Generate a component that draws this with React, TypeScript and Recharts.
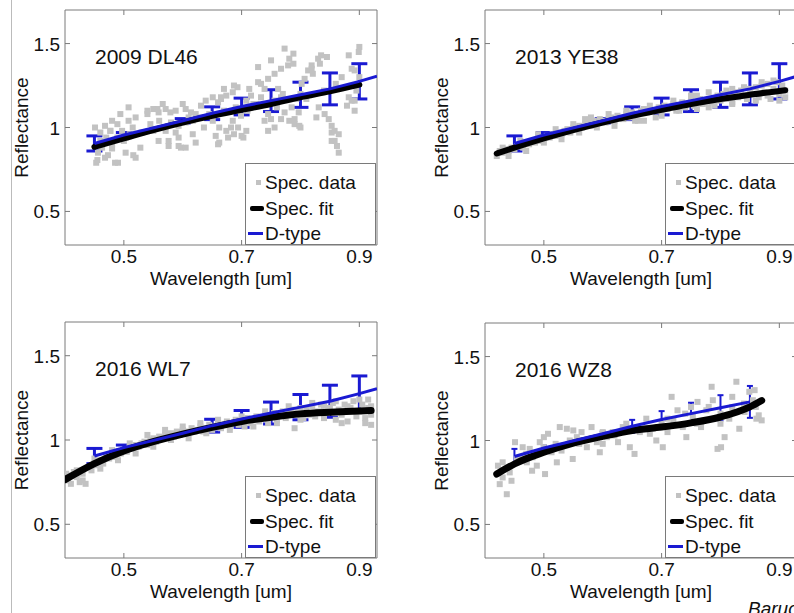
import React from "react";
import { ComposedChart, ErrorBar, Legend, ReferenceLine, Scatter, XAxis, YAxis } from "recharts";

const FONT = "'Liberation Sans', Arial, Helvetica, sans-serif";
const BOX = "#7a7a7a";
const GRAY = "#c2c2c2";
const BLUE = "#1a1ad2";

const xTicks = [0.5, 0.7, 0.9];
const yTicks = [0.5, 1, 1.5];
const legendNames = ["Spec. data", "Spec. fit", "D-type"];

// D-type template with error bars
const dtypeX = [0.45, 0.5, 0.6, 0.65, 0.7, 0.75, 0.8, 0.85, 0.9];
const dtypeY = [0.905, 0.955, 1.04, 1.085, 1.125, 1.16, 1.195, 1.23, 1.275];
const dtypeErr = [0.045, 0.015, 0.013, 0.038, 0.05, 0.065, 0.075, 0.095, 0.105];
const dtypeTailX = [0.9, 0.93];
const dtypeTailY = [1.275, 1.305];

// spectral fits
const fitDL46X = [0.45, 0.5, 0.55, 0.6, 0.65, 0.7, 0.75, 0.8, 0.85, 0.9];
const fitDL46Y = [0.885, 0.935, 0.985, 1.03, 1.07, 1.105, 1.14, 1.18, 1.215, 1.255];
const fitYE38X = [0.42, 0.45, 0.5, 0.55, 0.6, 0.65, 0.7, 0.75, 0.8, 0.85, 0.9, 0.91];
const fitYE38Y = [0.845, 0.88, 0.935, 0.985, 1.03, 1.07, 1.105, 1.14, 1.17, 1.195, 1.218, 1.222];
const fitWL7X = [0.4, 0.45, 0.5, 0.55, 0.6, 0.65, 0.7, 0.75, 0.8, 0.85, 0.9, 0.92];
const fitWL7Y = [0.765, 0.86, 0.935, 0.99, 1.035, 1.075, 1.11, 1.135, 1.155, 1.165, 1.172, 1.175];
const fitWZ8X = [0.42, 0.45, 0.5, 0.55, 0.6, 0.65, 0.7, 0.75, 0.8, 0.85, 0.87];
const fitWZ8Y = [0.8, 0.86, 0.93, 0.985, 1.025, 1.06, 1.08, 1.105, 1.14, 1.2, 1.238];

// spectral data points [wavelength, reflectance]
const specDL46: [number, number][] = [
  [0.455, 0.806], [0.468, 0.82], [0.485, 0.79], [0.477, 0.98], [0.516, 0.835], [0.528, 0.88],
  [0.557, 1.11], [0.54, 1.08], [0.597, 0.88], [0.66, 0.9], [0.665, 1.18], [0.693, 1.24],
  [0.7, 0.95], [0.728, 1.27], [0.728, 1.36], [0.745, 0.98], [0.75, 1.4], [0.773, 1.47],
  [0.779, 1.37], [0.79, 1.02], [0.8, 1.0], [0.819, 1.35], [0.83, 1.41], [0.835, 1.43],
  [0.853, 0.97], [0.858, 0.92], [0.865, 0.85], [0.882, 1.43], [0.9, 1.48], [0.887, 1.35],
  [0.892, 1.16], [0.788, 1.44], [0.781, 1.41], [0.788, 1.38], [0.767, 1.35], [0.756, 1.32],
  [0.745, 1.29], [0.845, 1.42], [0.833, 1.38], [0.899, 1.45], [0.819, 1.37], [0.813, 1.34],
  [0.821, 1.32], [0.807, 1.29], [0.802, 1.26], [0.713, 1.23], [0.716, 1.19], [0.708, 1.16],
  [0.733, 1.26], [0.739, 1.23], [0.733, 1.18], [0.725, 1.14], [0.762, 1.23], [0.767, 1.18],
  [0.756, 1.16], [0.793, 1.17], [0.785, 1.12], [0.797, 1.09], [0.79, 1.05], [0.798, 1.01],
  [0.773, 1.09], [0.767, 1.05], [0.781, 1.04], [0.745, 1.08], [0.75, 1.05], [0.739, 1.04],
  [0.756, 1.0], [0.699, 1.07], [0.694, 1.0], [0.708, 0.98], [0.703, 0.94], [0.831, 1.12],
  [0.827, 1.06], [0.841, 1.08], [0.848, 1.05], [0.853, 1.01], [0.858, 0.98], [0.865, 0.96],
  [0.853, 0.92], [0.862, 0.89], [0.882, 1.18], [0.879, 1.13], [0.887, 1.16], [0.892, 1.1],
  [0.892, 1.34], [0.453, 0.79], [0.49, 0.79], [0.456, 0.85], [0.473, 0.835], [0.463, 0.88],
  [0.48, 0.875], [0.503, 0.85], [0.52, 0.82], [0.508, 1.04], [0.52, 1.06], [0.515, 1.0],
  [0.497, 0.98], [0.489, 0.94], [0.503, 0.94], [0.54, 1.1], [0.55, 1.11], [0.559, 1.09],
  [0.571, 1.11], [0.579, 1.09], [0.588, 1.1], [0.566, 1.14], [0.6, 1.14], [0.605, 1.11],
  [0.614, 1.09], [0.622, 1.08], [0.631, 1.13], [0.639, 1.16], [0.651, 1.18], [0.66, 1.15],
  [0.665, 1.17], [0.674, 1.19], [0.685, 1.21], [0.67, 1.23], [0.687, 1.25], [0.55, 0.98],
  [0.571, 0.98], [0.588, 0.97], [0.559, 0.92], [0.576, 0.92], [0.593, 0.94], [0.593, 0.89],
  [0.576, 0.89], [0.617, 0.96], [0.636, 1.0], [0.651, 1.04], [0.662, 1.0], [0.674, 0.98],
  [0.622, 0.91], [0.605, 0.88], [0.656, 0.95], [0.662, 0.91], [0.677, 0.94], [0.605, 1.03],
  [0.617, 1.04], [0.593, 1.01], [0.685, 1.04], [0.682, 1.0], [0.687, 0.96], [0.451, 1.0],
  [0.46, 0.97], [0.468, 1.01], [0.48, 1.04], [0.477, 0.98], [0.489, 1.02], [0.508, 1.12],
  [0.494, 1.08], [0.46, 0.92], [0.47, 0.94], [0.48, 0.9], [0.5, 0.92], [0.51, 0.96],
  [0.53, 0.97], [0.545, 1.02], [0.56, 1.04], [0.58, 1.03], [0.61, 1.06], [0.63, 1.06],
  [0.645, 1.08], [0.67, 1.1], [0.69, 1.12], [0.71, 1.1], [0.72, 1.14], [0.76, 1.12],
  [0.77, 1.2], [0.8, 1.2], [0.81, 1.17], [0.84, 1.22], [0.86, 1.26], [0.87, 1.3],
  [0.9, 1.3], [0.895, 1.22],
];

const specYE38: [number, number][] = [
  [0.42, 0.83], [0.425, 0.86], [0.43, 0.85], [0.435, 0.87], [0.44, 0.86], [0.445, 0.88],
  [0.45, 0.87], [0.455, 0.89], [0.46, 0.9], [0.465, 0.88], [0.47, 0.91], [0.475, 0.9],
  [0.48, 0.92], [0.485, 0.91], [0.49, 0.93], [0.495, 0.92], [0.5, 0.94], [0.505, 0.95],
  [0.51, 0.94], [0.515, 0.96], [0.52, 0.95], [0.525, 0.97], [0.53, 0.96], [0.535, 0.98],
  [0.54, 0.99], [0.545, 0.97], [0.55, 1.0], [0.555, 0.99], [0.56, 1.01], [0.565, 1.0],
  [0.57, 1.02], [0.575, 1.03], [0.58, 1.01], [0.585, 1.04], [0.59, 1.03], [0.595, 1.05],
  [0.6, 1.04], [0.605, 1.03], [0.61, 1.05], [0.615, 1.06], [0.62, 1.04], [0.625, 1.07],
  [0.63, 1.06], [0.635, 1.05], [0.64, 1.08], [0.645, 1.06], [0.65, 1.09], [0.655, 1.04],
  [0.66, 1.08], [0.665, 1.1], [0.67, 1.04], [0.675, 1.09], [0.68, 1.11], [0.685, 1.1],
  [0.69, 1.06], [0.695, 1.12], [0.7, 1.1], [0.705, 1.13], [0.71, 1.11], [0.715, 1.12],
  [0.72, 1.14], [0.725, 1.1], [0.73, 1.13], [0.735, 1.15], [0.74, 1.12], [0.745, 1.14],
  [0.75, 1.16], [0.755, 1.13], [0.76, 1.15], [0.765, 1.17], [0.77, 1.14], [0.775, 1.16],
  [0.78, 1.12], [0.785, 1.15], [0.79, 1.17], [0.795, 1.19], [0.8, 1.16], [0.805, 1.2],
  [0.81, 1.17], [0.815, 1.19], [0.82, 1.15], [0.825, 1.21], [0.83, 1.18], [0.835, 1.22],
  [0.84, 1.19], [0.845, 1.17], [0.85, 1.23], [0.855, 1.2], [0.86, 1.24], [0.865, 1.18],
  [0.87, 1.25], [0.875, 1.21], [0.88, 1.26], [0.885, 1.17], [0.89, 1.23], [0.895, 1.27],
  [0.9, 1.2], [0.905, 1.25], [0.91, 1.22], [0.91, 1.18],
  [0.43, 0.88], [0.44, 0.83], [0.46, 0.92], [0.47, 0.86], [0.49, 0.96], [0.5, 0.91],
  [0.52, 0.99], [0.53, 0.93], [0.55, 1.02], [0.56, 0.97], [0.58, 1.06], [0.59, 1.0],
  [0.61, 1.08], [0.62, 1.01], [0.64, 1.1], [0.66, 1.04], [0.68, 1.13], [0.7, 1.07],
  [0.72, 1.16], [0.73, 1.1], [0.75, 1.19], [0.76, 1.11], [0.78, 1.21], [0.79, 1.13],
  [0.81, 1.22], [0.82, 1.14], [0.84, 1.24], [0.86, 1.16], [0.87, 1.27], [0.88, 1.19],
  [0.89, 1.28], [0.9, 1.16], [0.76, 1.19], [0.82, 1.23], [0.67, 1.11], [0.57, 1.05],
];

const specWL7: [number, number][] = [
  [0.4, 0.78], [0.402, 0.8], [0.405, 0.76], [0.41, 0.79], [0.415, 0.81], [0.42, 0.78],
  [0.425, 0.75], [0.43, 0.8], [0.435, 0.74], [0.44, 0.84], [0.445, 0.82], [0.45, 0.86],
  [0.455, 0.85], [0.46, 0.88], [0.465, 0.86], [0.47, 0.9], [0.475, 0.89], [0.48, 0.91],
  [0.485, 0.9], [0.49, 0.93], [0.495, 0.92], [0.5, 0.94], [0.505, 0.93], [0.51, 0.96],
  [0.515, 0.95], [0.52, 0.97], [0.525, 0.96], [0.53, 0.98], [0.535, 0.99], [0.54, 0.97],
  [0.545, 1.0], [0.55, 1.01], [0.555, 0.99], [0.56, 1.02], [0.565, 1.01], [0.57, 1.03],
  [0.575, 1.02], [0.58, 1.04], [0.585, 1.02], [0.59, 1.05], [0.595, 1.03], [0.6, 1.06],
  [0.605, 1.04], [0.61, 1.05], [0.615, 1.07], [0.62, 1.05], [0.625, 1.06], [0.63, 1.08],
  [0.635, 1.05], [0.64, 1.07], [0.645, 1.09], [0.65, 1.06], [0.655, 1.08], [0.66, 1.1],
  [0.665, 1.07], [0.67, 1.09], [0.675, 1.11], [0.68, 1.08], [0.685, 1.1], [0.69, 1.12],
  [0.695, 1.09], [0.7, 1.11], [0.705, 1.08], [0.71, 1.13], [0.715, 1.1], [0.72, 1.12],
  [0.725, 1.14], [0.73, 1.11], [0.735, 1.13], [0.74, 1.15], [0.745, 1.1], [0.75, 1.14],
  [0.755, 1.16], [0.76, 1.12], [0.765, 1.15], [0.77, 1.17], [0.775, 1.13], [0.78, 1.16],
  [0.785, 1.18], [0.79, 1.07], [0.795, 1.17], [0.8, 1.19], [0.805, 1.13], [0.81, 1.18],
  [0.815, 1.15], [0.82, 1.2], [0.825, 1.14], [0.83, 1.17], [0.835, 1.21], [0.84, 1.13],
  [0.845, 1.16], [0.85, 1.19], [0.855, 1.22], [0.86, 1.12], [0.865, 1.18], [0.87, 1.15],
  [0.875, 1.21], [0.88, 1.11], [0.885, 1.19], [0.89, 1.23], [0.895, 1.14], [0.9, 1.17],
  [0.905, 1.21], [0.91, 1.1], [0.915, 1.24], [0.92, 1.09], [0.92, 1.15], [0.915, 1.19],
  [0.41, 0.74], [0.42, 0.82], [0.43, 0.76], [0.45, 0.89], [0.46, 0.83], [0.48, 0.94],
  [0.49, 0.88], [0.51, 0.98], [0.52, 0.92], [0.54, 1.03], [0.55, 0.96], [0.57, 1.06],
  [0.58, 1.0], [0.6, 1.08], [0.61, 1.01], [0.63, 1.1], [0.64, 1.04], [0.66, 1.12],
  [0.68, 1.06], [0.7, 1.14], [0.72, 1.08], [0.74, 1.17], [0.76, 1.1], [0.78, 1.2],
  [0.8, 1.12], [0.82, 1.22], [0.84, 1.2], [0.86, 1.23], [0.88, 1.2], [0.9, 1.24],
  [0.92, 1.2], [0.91, 1.13], [0.87, 1.1],
];

const specWZ8: [number, number][] = [
  [0.437, 0.68], [0.425, 0.74], [0.422, 0.85], [0.43, 0.87], [0.442, 0.81], [0.454, 0.89],
  [0.451, 0.99], [0.464, 0.96], [0.476, 0.95], [0.471, 0.87], [0.481, 0.9], [0.488, 0.85],
  [0.502, 0.8], [0.493, 0.99], [0.507, 1.04], [0.513, 0.93], [0.522, 0.87], [0.527, 1.08],
  [0.539, 1.07], [0.544, 1.0], [0.549, 0.89], [0.556, 1.02], [0.564, 1.05], [0.573, 0.96],
  [0.581, 1.08], [0.59, 0.99], [0.595, 0.93], [0.607, 1.02], [0.617, 1.05], [0.626, 0.99],
  [0.634, 1.08], [0.646, 0.96], [0.654, 0.92], [0.663, 1.05], [0.674, 1.13], [0.685, 1.07],
  [0.691, 1.0], [0.702, 0.96], [0.71, 1.13], [0.717, 1.26], [0.727, 1.18], [0.736, 1.08],
  [0.742, 1.02], [0.753, 1.14], [0.761, 1.23], [0.767, 1.08], [0.776, 1.18], [0.785, 1.32],
  [0.787, 1.24], [0.795, 0.95], [0.801, 0.96], [0.807, 1.02], [0.815, 1.13], [0.82, 1.2],
  [0.827, 1.35], [0.832, 1.07], [0.841, 1.17], [0.849, 1.29], [0.855, 1.24], [0.861, 1.13],
  [0.858, 1.3], [0.44, 0.83], [0.46, 0.9], [0.47, 0.92], [0.5, 0.96], [0.52, 0.98],
  [0.53, 0.94], [0.56, 0.98], [0.58, 1.01], [0.6, 1.05], [0.62, 1.03], [0.64, 1.1],
  [0.66, 1.07], [0.68, 1.04], [0.7, 1.1], [0.72, 1.12], [0.74, 1.16], [0.76, 1.1],
  [0.78, 1.2], [0.8, 1.16], [0.82, 1.26], [0.84, 1.22], [0.86, 1.2], [0.865, 1.15],
  [0.5, 1.02], [0.55, 1.06], [0.43, 0.78], [0.445, 0.76], [0.48, 0.82], [0.6, 0.98],
  [0.71, 1.05], [0.75, 1.2], [0.8, 1.1], [0.87, 1.12],
];

const XTick = (props: any) => {
  const { x, y, payload, plotH } = props;
  return (
    <g>
      <line x1={x} x2={x} y1={y} y2={y - 5} stroke={BOX} />
      <line x1={x} x2={x} y1={y - plotH} y2={y - plotH + 5} stroke={BOX} />
      <text x={x} y={y + 18} textAnchor="middle" fontFamily={FONT} fontSize={19} fill="#111">
        {payload.value}
      </text>
    </g>
  );
};

const YTick = (props: any) => {
  const { x, y, payload, plotW } = props;
  return (
    <g>
      <line x1={x} x2={x + 5} y1={y} y2={y} stroke={BOX} />
      <line x1={x + plotW} x2={x + plotW - 5} y1={y} y2={y} stroke={BOX} />
      <text x={x - 5} y={y + 7} textAnchor="end" fontFamily={FONT} fontSize={19} fill="#111">
        {payload.value}
      </text>
    </g>
  );
};

const LegendBox = () => {
  const rowTop = [9, 35, 60];
  return (
    <div
      style={{
        width: 131,
        height: 82,
        boxSizing: "border-box",
        border: `1px solid ${BOX}`,
        background: "#fff",
        position: "relative",
        fontFamily: FONT,
        fontSize: 19,
        lineHeight: "19px",
        color: "#111",
      }}
    >
      <div style={{ position: "absolute", left: 10, top: 16, width: 5, height: 5, background: GRAY }} />
      <div style={{ position: "absolute", left: 4, top: 42, width: 14, height: 5, borderRadius: 2, background: "#000" }} />
      <div style={{ position: "absolute", left: 2, top: 68, width: 15, height: 3, background: BLUE }} />
      {legendNames.map((n, i) => (
        <div key={n} style={{ position: "absolute", left: 19, top: rowTop[i], whiteSpace: "nowrap" }}>
          {n}
        </div>
      ))}
    </div>
  );
};

const Square = (s: any) => <rect x={s.cx - 3} y={s.cy - 3} width={6} height={6} fill={GRAY} />;
const NoShape = () => <g />;

type PanelProps = {
  title: string;
  spec: [number, number][];
  fitX: number[];
  fitY: number[];
  nD: number;
  tail: boolean;
  left: number;
  top: number;
  H: number;
  plotLeft: number;
  plotTop: number;
  plotH: number;
  fitWidth: number;
  barStroke: number;
  barCap: number;
};

const Panel = (p: PanelProps) => {
  const W = 400;
  const plotW = 312;
  const yAxisW = 45;
  const xAxisH = 40;
  const margin = {
    top: p.plotTop,
    left: p.plotLeft - yAxisW,
    right: W - p.plotLeft - plotW,
    bottom: p.H - p.plotTop - p.plotH - xAxisH,
  };
  const specData = p.spec.map(([x, y]) => ({ x, y }));
  const fitData = p.fitX.map((x, i) => ({ x, y: p.fitY[i] }));
  const dData = dtypeX.slice(0, p.nD).map((x, i) => ({ x, y: dtypeY[i], err: dtypeErr[i] }));
  const tailData = dtypeTailX.map((x, i) => ({ x, y: dtypeTailY[i] }));
  const cx = p.plotLeft + plotW / 2;
  const bottom = p.plotTop + p.plotH;
  const ly = p.plotTop + p.plotH / 2;
  const lx = p.plotLeft - 37;

  return (
    <div style={{ position: "absolute", left: p.left, top: p.top, width: W, height: p.H }}>
      <ComposedChart width={W} height={p.H} margin={margin}>
        <XAxis
          type="number"
          dataKey="x"
          domain={[0.4, 0.93]}
          allowDataOverflow
          ticks={xTicks}
          interval={0}
          height={xAxisH}
          tickSize={0}
          tickMargin={0}
          tickLine={false}
          axisLine={{ stroke: BOX }}
          tick={<XTick plotH={p.plotH} />}
        />
        <YAxis
          type="number"
          dataKey="y"
          domain={[0.3, 1.7]}
          allowDataOverflow
          ticks={yTicks}
          interval={0}
          width={yAxisW}
          tickSize={0}
          tickMargin={0}
          tickLine={false}
          axisLine={{ stroke: BOX }}
          tick={<YTick plotW={plotW} />}
        />
        <ReferenceLine y={1.7} stroke={BOX} />
        <ReferenceLine x={0.93} stroke={BOX} />
        <Scatter name={legendNames[0]} data={specData} isAnimationActive={false} shape={Square} />
        <Scatter
          name={legendNames[1]}
          data={fitData}
          line={{ stroke: "#000", strokeWidth: p.fitWidth, strokeLinecap: "round", strokeLinejoin: "round" }}
          lineJointType="monotoneX"
          shape={NoShape}
          isAnimationActive={false}
        />
        <Scatter
          name={legendNames[2]}
          data={dData}
          line={{ stroke: BLUE, strokeWidth: 3 }}
          shape={NoShape}
          isAnimationActive={false}
        >
          <ErrorBar dataKey="err" direction="y" width={p.barCap} stroke={BLUE} strokeWidth={p.barStroke} />
        </Scatter>
        {p.tail && (
          <Scatter
            data={tailData}
            line={{ stroke: BLUE, strokeWidth: 3 }}
            shape={NoShape}
            legendType="none"
            isAnimationActive={false}
          />
        )}
        <Legend
          verticalAlign="middle"
          align="center"
          content={() => <LegendBox />}
          wrapperStyle={{ left: p.plotLeft + 180, top: bottom - 82, width: 131, height: 82 }}
        />
        <text x={p.plotLeft + 30} y={p.plotTop + 54} fontFamily={FONT} fontSize={21} fill="#111">
          {p.title}
        </text>
        <text x={cx} y={bottom + 40} textAnchor="middle" fontFamily={FONT} fontSize={19} fill="#111">
          Wavelength [um]
        </text>
        <text
          x={lx}
          y={ly}
          transform={`rotate(-90 ${lx} ${ly})`}
          textAnchor="middle"
          fontFamily={FONT}
          fontSize={19}
          fill="#111"
        >
          Reflectance
        </text>
      </ComposedChart>
    </div>
  );
};

export default function App() {
  return (
    <div
      style={{
        position: "absolute",
        left: 0,
        top: 0,
        width: 794,
        height: 613,
        overflow: "hidden",
        background: "#fff",
      }}
    >
      <div style={{ position: "absolute", left: 11, top: 0, width: 1, height: 613, background: "#bbb" }} />
      <Panel title="2009 DL46" spec={specDL46} fitX={fitDL46X} fitY={fitDL46Y} nD={9} tail
        left={0} top={0} H={300} plotLeft={65} plotTop={10} plotH={235} fitWidth={6} barStroke={3} barCap={8} />
      <Panel title="2013 YE38" spec={specYE38} fitX={fitYE38X} fitY={fitYE38Y} nD={9} tail
        left={400} top={0} H={300} plotLeft={85} plotTop={10} plotH={235} fitWidth={6} barStroke={3} barCap={8} />
      <Panel title="2016 WL7" spec={specWL7} fitX={fitWL7X} fitY={fitWL7Y} nD={9} tail
        left={0} top={300} H={313} plotLeft={65} plotTop={22} plotH={236} fitWidth={7} barStroke={3} barCap={8} />
      <Panel title="2016 WZ8" spec={specWZ8} fitX={fitWZ8X} fitY={fitWZ8Y} nD={8} tail={false}
        left={400} top={300} H={313} plotLeft={85} plotTop={23} plotH={235} fitWidth={7} barStroke={2} barCap={3} />
      <div
        style={{
          position: "absolute",
          left: 748,
          top: 598,
          fontFamily: FONT,
          fontSize: 19,
          fontStyle: "italic",
          color: "#111",
          whiteSpace: "nowrap",
        }}
      >
        Barucci
      </div>
    </div>
  );
}
